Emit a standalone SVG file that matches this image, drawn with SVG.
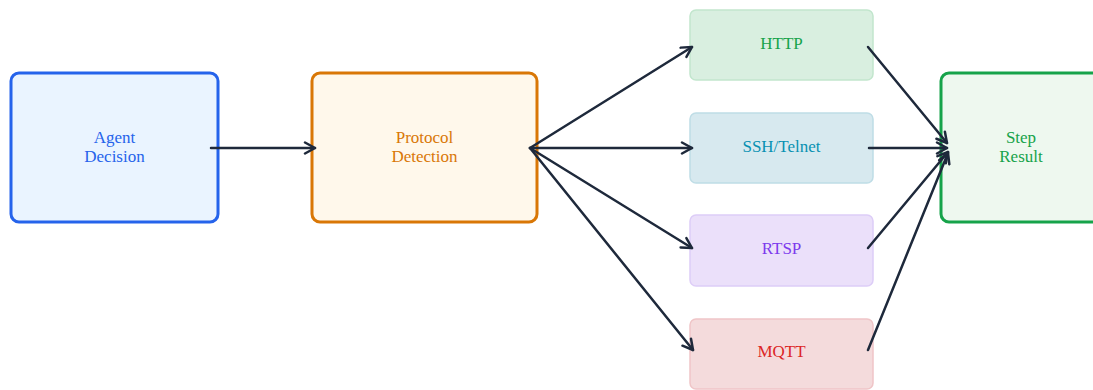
<svg xmlns="http://www.w3.org/2000/svg" width="1093" height="390" viewBox="0 0 1093 390">
<style>
.lbl{font-family:"Liberation Serif","DejaVu Serif",serif;font-size:17px;text-anchor:middle}
.edge{fill:none;stroke:#1e293b;stroke-width:2.5;stroke-linecap:round}
</style>
<defs>
<marker id="arr" viewBox="0 0 14 14" refX="12" refY="7" markerWidth="14" markerHeight="14" markerUnits="userSpaceOnUse" orient="auto">
<path d="M2,1.5 L12,7 L2,12.5" fill="none" stroke="#1e293b" stroke-width="2.5" stroke-linecap="round" stroke-linejoin="round"/>
</marker>
</defs>
<rect width="1093" height="390" fill="#ffffff"/>
<g id="agent">
<rect x="11" y="73" width="207" height="149" rx="8" fill="#eaf4ff" stroke="#2563eb" stroke-width="3"/>
<text class="lbl" fill="#2563eb" x="114.5" y="143">Agent</text>
<text class="lbl" fill="#2563eb" x="114.5" y="162">Decision</text>
</g>
<g id="protocol">
<rect x="312" y="73" width="225" height="149" rx="8" fill="#fff8eb" stroke="#d97706" stroke-width="3"/>
<text class="lbl" fill="#d97706" x="424.5" y="143">Protocol</text>
<text class="lbl" fill="#d97706" x="424.5" y="162">Detection</text>
</g>
<g id="http">
<rect x="690" y="10" width="183" height="70" rx="6" fill="#d9efe0" stroke="#c2e6cd" stroke-width="1.5"/>
<text class="lbl" fill="#16a34a" x="781.5" y="49">HTTP</text>
</g>
<g id="ssh">
<rect x="690" y="113" width="183" height="70" rx="6" fill="#d7e9ef" stroke="#bfdde6" stroke-width="1.5"/>
<text class="lbl" fill="#0891b2" x="781.5" y="152">SSH/Telnet</text>
</g>
<g id="rtsp">
<rect x="690" y="215" width="183" height="71" rx="6" fill="#ebe0fa" stroke="#ddcdf7" stroke-width="1.5"/>
<text class="lbl" fill="#7c3aed" x="781.5" y="254">RTSP</text>
</g>
<g id="mqtt">
<rect x="690" y="319" width="183" height="70" rx="6" fill="#f4dbdc" stroke="#efc5c7" stroke-width="1.5"/>
<text class="lbl" fill="#dc2626" x="781.5" y="357">MQTT</text>
</g>
<g id="result">
<rect x="941" y="73" width="160" height="149" rx="8" fill="#eef8ef" stroke="#16a34a" stroke-width="3"/>
<text class="lbl" fill="#16a34a" x="1021" y="143">Step</text>
<text class="lbl" fill="#16a34a" x="1021" y="162">Result</text>
</g>
<g id="connectors">
<line class="edge" x1="211" y1="148" x2="315" y2="148" stroke-width="3" marker-end="url(#arr)"/>
<line class="edge" x1="530" y1="148" x2="692" y2="47" marker-end="url(#arr)"/>
<line class="edge" x1="530" y1="148" x2="692" y2="148" marker-end="url(#arr)"/>
<line class="edge" x1="530" y1="148" x2="692" y2="248" marker-end="url(#arr)"/>
<line class="edge" x1="530" y1="148" x2="693" y2="350" marker-end="url(#arr)"/>
<line class="edge" x1="868" y1="47" x2="947" y2="143" marker-end="url(#arr)"/>
<line class="edge" x1="869" y1="148" x2="947" y2="148" marker-end="url(#arr)"/>
<line class="edge" x1="868" y1="248" x2="948" y2="152" marker-end="url(#arr)"/>
<line class="edge" x1="868" y1="350" x2="948" y2="153" marker-end="url(#arr)"/>
</g>
</svg>
